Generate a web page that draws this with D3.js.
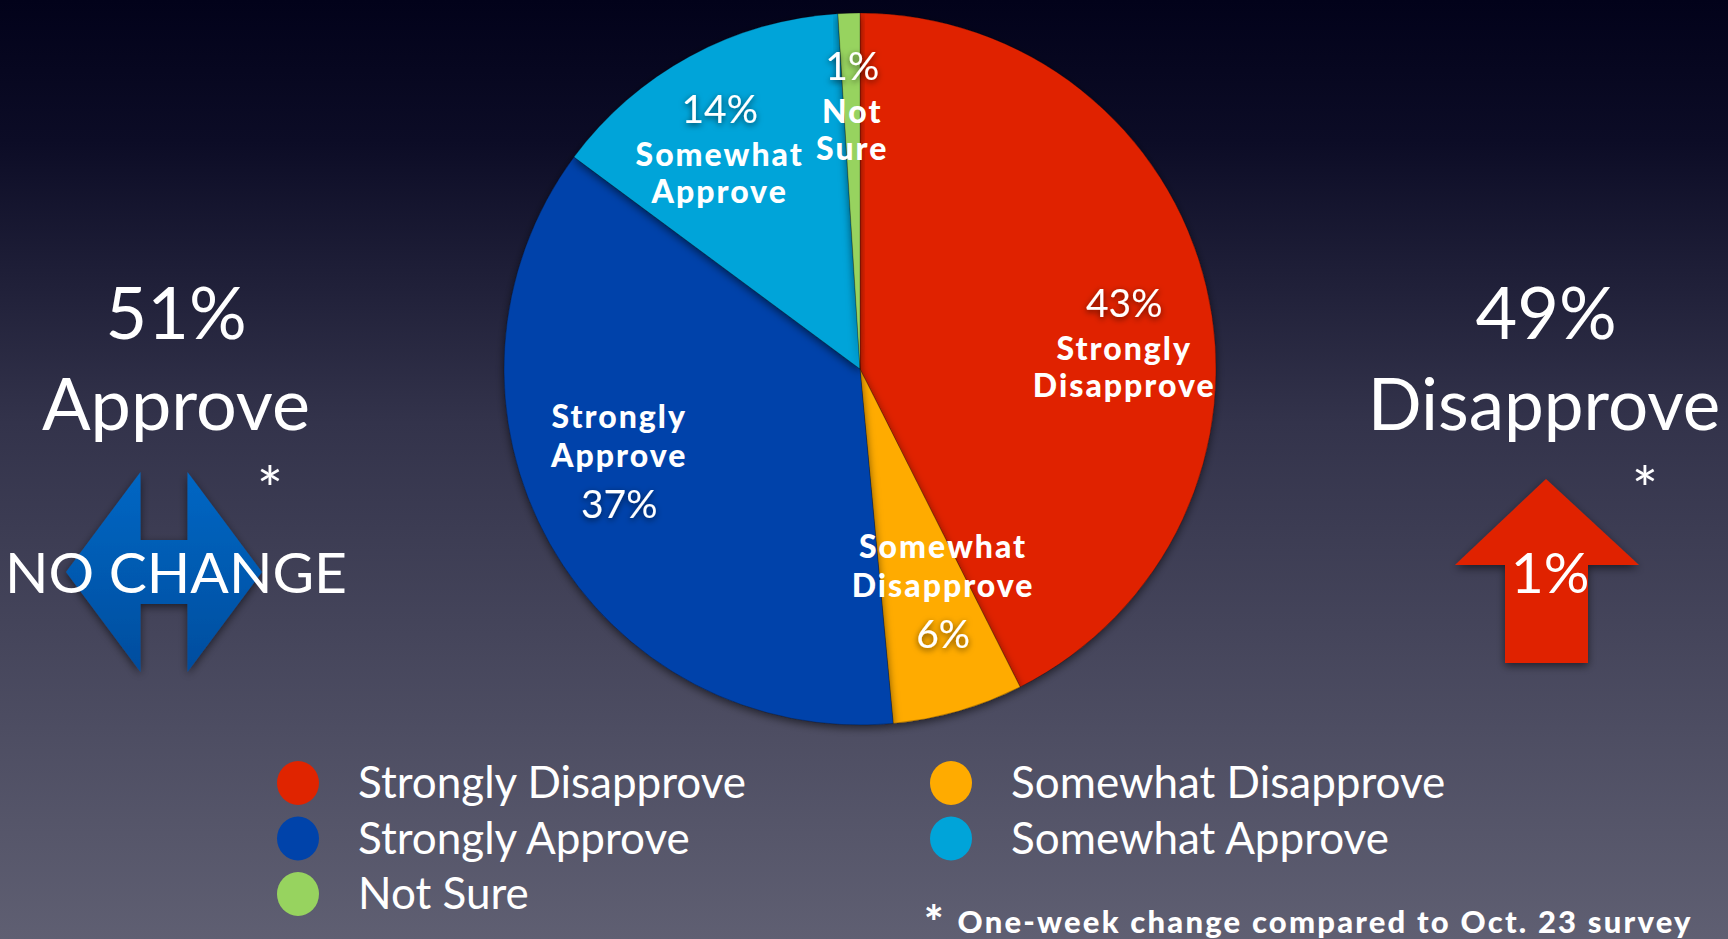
<!DOCTYPE html>
<html>
<head>
<meta charset="utf-8">
<script src="https://cdn.jsdelivr.net/npm/d3@7"></script>
<style>
  html, body { margin: 0; padding: 0; overflow: hidden; background: #2a2a40; }
  svg { display: block; }
</style>
</head>
<body>
<svg id="chart"></svg>
<script>
// slice order, clockwise from 12 o'clock
const categories = ["Strongly Disapprove", "Somewhat Disapprove", "Strongly Approve", "Somewhat Approve", "Not Sure"];
const values = [43, 6, 37, 14, 1];
const sliceColors = ["#e02400", "#ffab00", "#0043aa", "#00a4d9", "#97d35f"];
// label lines inside each slice (bold name lines, percent on top or bottom)
const nameLines = [["Strongly", "Disapprove"], ["Somewhat", "Disapprove"], ["Strongly", "Approve"], ["Somewhat", "Approve"], ["Not", "Sure"]];
const percentFirst = [true, false, false, true, true];
// legend order
const legendItems = ["Strongly Disapprove", "Strongly Approve", "Not Sure", "Somewhat Disapprove", "Somewhat Approve"];
// side summary
const approveTotal = "51%";
const disapproveTotal = "49%";
const approveChange = "NO CHANGE";
const disapproveChange = "1%";
const footnote = "One-week change compared to Oct. 23 survey";

const width = 1728, height = 939;
const cx = 860, cy = 369, radius = 356;
const font = "Lato, 'Open Sans', sans-serif";

const svg = d3.select("#chart").attr("width", width).attr("height", height);
const defs = svg.append("defs");

const bg = defs.append("linearGradient").attr("id", "bg").attr("x1", 0).attr("y1", 0).attr("x2", 0).attr("y2", 1);
bg.append("stop").attr("offset", "0%").attr("stop-color", "#02021a");
bg.append("stop").attr("offset", "15%").attr("stop-color", "#0c0c26");
bg.append("stop").attr("offset", "45%").attr("stop-color", "#33334b");
bg.append("stop").attr("offset", "100%").attr("stop-color", "#5f5f72");

const blueGrad = defs.append("linearGradient").attr("id", "blueArrow").attr("x1", 0).attr("y1", 0).attr("x2", 0).attr("y2", 1);
blueGrad.append("stop").attr("offset", "0%").attr("stop-color", "#0067c4");
blueGrad.append("stop").attr("offset", "100%").attr("stop-color", "#004d9e");

const shadow = defs.append("filter").attr("id", "shadow").attr("x", "-20%").attr("y", "-20%").attr("width", "140%").attr("height", "140%");
shadow.append("feDropShadow").attr("dx", 0).attr("dy", 3).attr("stdDeviation", 4).attr("flood-color", "#000").attr("flood-opacity", 0.55);

const glow = defs.append("filter").attr("id", "glow").attr("x", "-30%").attr("y", "-30%").attr("width", "160%").attr("height", "160%");
glow.append("feDropShadow").attr("dx", 0).attr("dy", 2).attr("stdDeviation", 3).attr("flood-color", "#000").attr("flood-opacity", 0.6);

svg.append("rect").attr("width", width).attr("height", height).attr("fill", "url(#bg)");

// pie
const pie = d3.pie().sort(null).value(d => d);
const arcs = pie(values);
const arc = d3.arc().innerRadius(0).outerRadius(radius);
const labelArc = d3.arc().innerRadius(250).outerRadius(250);
// nudges from label arc centroid to the first line baseline
const labelShift = [[21, 6], [14, -51], [-23, -64], [-21, -26], [0, -39]];

const g = svg.append("g").attr("transform", `translate(${cx},${cy})`);
g.selectAll("path.slice").data(arcs).enter()
  .append("path")
  .attr("class", "slice")
  .attr("d", arc)
  .attr("fill", (d, i) => sliceColors[i])
  .attr("stroke", "rgba(0,0,0,0.25)")
  .attr("stroke-width", 1)
  .attr("filter", "url(#shadow)");

const labels = g.selectAll("g.lbl").data(arcs).enter()
  .append("g").attr("class", "lbl")
  .attr("transform", (d, i) => {
    const c = labelArc.centroid(d);
    return `translate(${c[0] + labelShift[i][0]},${c[1] + labelShift[i][1]})`;
  });

labels.each(function(d, i) {
  const sel = d3.select(this);
  const pct = d.data + "%";
  const lines = percentFirst[i]
    ? [{ t: pct, p: true }, { t: nameLines[i][0] }, { t: nameLines[i][1] }]
    : [{ t: nameLines[i][0] }, { t: nameLines[i][1] }, { t: pct, p: true }];
  const offs = percentFirst[i] ? [0, 43, 80] : [0, 39, 90];
  lines.forEach((ln, k) => {
    sel.append("text")
      .attr("y", offs[k])
      .attr("text-anchor", "middle")
      .attr("fill", "#fff")
      .attr("font-family", font)
      .attr("font-size", ln.p ? 39 : 32)
      .attr("font-weight", ln.p ? 400 : 900)
      .attr("letter-spacing", ln.p ? 0 : 2)
      .attr("filter", ln.p ? "url(#glow)" : null)
      .text(ln.t);
  });
});

// side totals
const bigText = (x, y, t, size) => svg.append("text")
  .attr("x", x).attr("y", y)
  .attr("text-anchor", "middle")
  .attr("fill", "#fff")
  .attr("font-family", font)
  .attr("font-size", size)
  .text(t);

bigText(176, 339, approveTotal, 72);
bigText(176, 430, "Approve", 72);
bigText(1546, 339, disapproveTotal, 72);
bigText(1544, 430, "Disapprove", 71);
bigText(270, 512, "*", 62);
bigText(1645, 512, "*", 62);

// double arrow (no change)
const ax = 164, ay = 572;
const dbl = [[-98, 0], [-23.5, -100], [-23.5, -32], [23.5, -32], [23.5, -100], [98, 0], [23.5, 100], [23.5, 32], [-23.5, 32], [-23.5, 100]];
svg.append("path")
  .attr("d", d3.line()(dbl.map(p => [ax + p[0], ay + p[1]])) + "Z")
  .attr("fill", "url(#blueArrow)")
  .attr("filter", "url(#shadow)");
bigText(176, 593, approveChange, 57);

// up arrow
const ux = 1546;
const up = [[0, 479], [93, 565], [42, 565], [42, 663], [-41, 663], [-41, 565], [-91, 565]];
svg.append("path")
  .attr("d", d3.line()(up.map(p => [ux + p[0], p[1]])) + "Z")
  .attr("fill", "#e02400")
  .attr("filter", "url(#shadow)");
bigText(1550, 593, disapproveChange, 57);

// legend
const colorOf = d3.scaleOrdinal().domain(categories).range(sliceColors);
const legendPos = (i) => i < 3 ? [298, 783 + i * 55.5] : [951, 783 + (i - 3) * 55.5];
const leg = svg.selectAll("g.leg").data(legendItems).enter()
  .append("g").attr("class", "leg")
  .attr("transform", (d, i) => `translate(${legendPos(i)[0]},${legendPos(i)[1]})`);
leg.append("ellipse").attr("rx", 21).attr("ry", 22).attr("fill", d => colorOf(d));
leg.append("text")
  .attr("x", 60).attr("y", 15)
  .attr("fill", "#fff")
  .attr("font-family", font)
  .attr("font-size", 44)
  .text(d => d);

// footnote
const fn = svg.append("text")
  .attr("x", 924).attr("y", 933)
  .attr("fill", "#fff")
  .attr("font-family", font)
  .attr("font-weight", 900)
  .attr("font-size", 31);
fn.append("tspan").attr("font-size", 46).attr("dy", 6).text("*");
fn.append("tspan").attr("dx", 14).attr("dy", -6).attr("letter-spacing", 2.2).text(footnote);
</script>
</body>
</html>
